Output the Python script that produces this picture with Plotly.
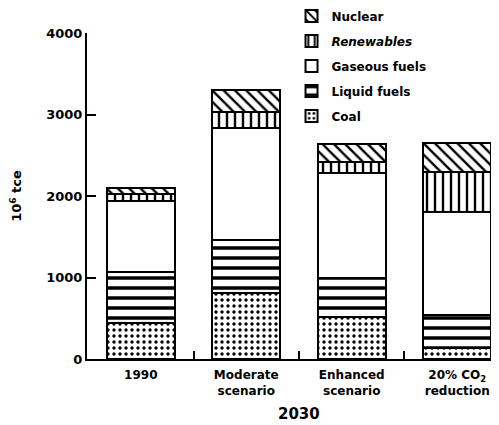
import plotly.graph_objects as go

categories = ["1990", "Moderate<br>scenario", "Enhanced<br>scenario", "20% CO<sub>2</sub><br>reduction"]
coal = [440, 810, 515, 135]
liquid = [630, 650, 485, 405]
gaseous = [870, 1370, 1280, 1260]
renewables = [90, 200, 140, 490]
nuclear = [70, 270, 220, 360]

series = [
    ("Coal", coal, dict(shape=".", size=6, solidity=0.25)),
    ("Liquid fuels", liquid, dict(shape="-", size=10, solidity=0.35)),
    ("Gaseous fuels", gaseous, dict(shape="")),
    ("<i>Renewables</i>", renewables, dict(shape="|", size=8, solidity=0.3)),
    ("Nuclear", nuclear, dict(shape="\\", size=8, solidity=0.3)),
]

xpos = list(range(len(categories)))
FONT = "DejaVu Sans"

fig = go.Figure()
n = len(series)
for i, (name, vals, pat) in enumerate(series):
    pattern = dict(fgcolor="black", bgcolor="white", fillmode="replace", **pat)
    fig.add_trace(go.Bar(
        x=xpos, y=vals, name=name, width=0.645,
        legendgroup=name, legendrank=n - i,
        marker=dict(color="white", line=dict(color="black", width=2), pattern=pattern),
    ))

fig.update_layout(
    width=491, height=417,
    barmode="stack",
    plot_bgcolor="white", paper_bgcolor="white",
    margin=dict(l=79, r=7, t=25, b=66, autoexpand=False),
    font=dict(family=FONT, color="black", size=12, weight="bold"),
    showlegend=True,
    legend=dict(
        x=0.505, y=1.097, xanchor="left", yanchor="top",
        traceorder="grouped", tracegroupgap=6,
        font=dict(size=12, family=FONT, weight="bold"),
        bgcolor="rgba(0,0,0,0)",
    ),
    xaxis=dict(
        range=[-0.51, 3.33], tickmode="array", tickvals=xpos, ticktext=categories,
        showline=True, linecolor="black", linewidth=2, showgrid=False, zeroline=False,
        ticks="outside", ticklen=4, tickcolor="rgba(0,0,0,0)", automargin=False,
        tickfont=dict(size=12, family=FONT, weight="bold"),
        minor=dict(tickmode="array", tickvals=[0.5, 1.5, 2.5], ticks="inside", ticklen=8,
                   tickcolor="black", tickwidth=1.5, showgrid=False),
    ),
    yaxis=dict(
        range=[0, 4000], tickvals=[0, 1000, 2000, 3000, 4000],
        showline=True, linecolor="black", linewidth=2, showgrid=False, zeroline=False,
        ticks="inside", ticklen=9, tickwidth=2, tickcolor="black", automargin=False,
        tickfont=dict(size=13, family=FONT, weight="bold"),
        title=dict(text="10<sup>6</sup> tce", standoff=24,
                   font=dict(size=13, family=FONT, weight="bold")),
    ),
)

fig.add_annotation(x=1.5, xref="x", y=-0.169, yref="paper", text="2030",
                   showarrow=False, yanchor="middle",
                   font=dict(size=15, family=FONT, weight="bold"))

fig.write_html("out.html")
